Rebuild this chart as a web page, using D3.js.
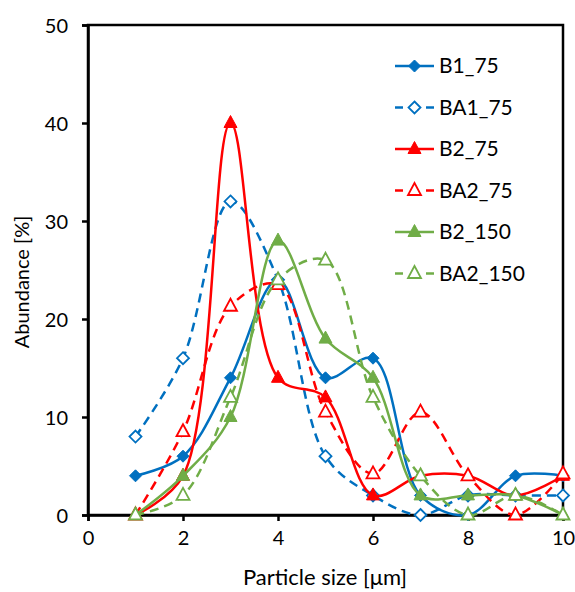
<!DOCTYPE html>
<html><head><meta charset="utf-8">
<script src="https://cdn.jsdelivr.net/npm/d3@7"></script>
<style>body{margin:0;background:#fff}svg{display:block}text{font-family:Lato,"Open Sans",sans-serif;fill:#000}</style>
</head><body>
<script>
const xValues = [1, 2, 3, 4, 5, 6, 7, 8, 9, 10];
const B1_75   = [4, 6, 14, 24, 14, 16, 2, 0, 4, 4];
const BA1_75  = [8, 16, 32, 24, 6, 2, 0, 2, 2, 2];
const B2_75   = [0, 4, 40, 14, 12, 2, 4, 4, 2, 4];
const BA2_75  = [0, 8.5, 21.3, 23.5, 10.5, 4.2, 10.5, 4, 0, 4.2];
const B2_150  = [0, 4, 10, 28, 18, 14, 2, 2, 2, 0];
const BA2_150 = [0, 2, 12, 24, 26, 12, 4, 0, 2, 0];
const seriesNames = ["B1_75", "BA1_75", "B2_75", "BA2_75", "B2_150", "BA2_150"];
const xTicks = [0, 2, 4, 6, 8, 10];
const yTicks = [0, 10, 20, 30, 40, 50];

const series = [
  {name: seriesNames[0], values: B1_75,   color: "#0070C0", dashed: false, marker: "diamond", filled: true},
  {name: seriesNames[1], values: BA1_75,  color: "#0070C0", dashed: true,  marker: "diamond", filled: false},
  {name: seriesNames[2], values: B2_75,   color: "#FF0000", dashed: false, marker: "triangle", filled: true},
  {name: seriesNames[3], values: BA2_75,  color: "#FF0000", dashed: true,  marker: "triangle", filled: false},
  {name: seriesNames[4], values: B2_150,  color: "#70AD47", dashed: false, marker: "triangle", filled: true},
  {name: seriesNames[5], values: BA2_150, color: "#70AD47", dashed: true,  marker: "triangle", filled: false}
];

const W = 575, H = 592;
const m = {left: 88, right: 12, top: 25, bottom: 77};
const svg = d3.select("body").append("svg").attr("width", W).attr("height", H);

const x = d3.scaleLinear().domain([0, 10]).range([m.left, W - m.right]);
const y = d3.scaleLinear().domain([0, 50]).range([H - m.bottom, m.top]);

// plot border
svg.append("rect").attr("x", x(0)).attr("y", y(50)).attr("width", x(10) - x(0)).attr("height", y(0) - y(50))
  .attr("fill", "none").attr("stroke", "#000").attr("stroke-width", 2.5);

// axes
const xAxis = svg.append("g").attr("transform", `translate(0,${y(0)})`)
  .call(d3.axisBottom(x).tickValues(xTicks).tickSize(6).tickPadding(10).tickFormat(d3.format("d")));
const yAxis = svg.append("g").attr("transform", `translate(${x(0)},0)`)
  .call(d3.axisLeft(y).tickValues(yTicks).tickSize(6).tickPadding(14).tickFormat(d3.format("d")));
[xAxis, yAxis].forEach(g => {
  g.select(".domain").attr("stroke", "#000").attr("stroke-width", 2.5);
  g.selectAll(".tick line").attr("stroke", "#000").attr("stroke-width", 2.5);
  g.selectAll(".tick text").attr("font-size", 20).attr("font-family", "Lato");
});
yAxis.selectAll(".tick text").attr("dy", "0.35em");

// axis titles
svg.append("text").attr("x", 325).attr("y", 585).attr("text-anchor", "middle")
  .attr("font-size", 22).text("Particle size [μm]");
svg.append("text").attr("transform", `translate(29,${(y(0) + y(50)) / 2 + 12}) rotate(-90)`)
  .attr("text-anchor", "middle").attr("font-size", 20).text("Abundance [%]");

const line = d3.line().x((d, i) => x(xValues[i])).y(d => y(d)).curve(d3.curveCatmullRom.alpha(0.5));

function markerPath(type) {
  if (type === "diamond") return "M0,-6L6,0L0,6L-6,0Z";
  return "M0,-7L6.5,5L-6.5,5Z";
}

series.forEach(s => {
  const g = svg.append("g");
  g.append("path").attr("d", line(s.values)).attr("fill", "none").attr("stroke", s.color)
    .attr("stroke-width", 2.5).attr("stroke-dasharray", s.dashed ? "9,6" : null);
  g.selectAll("path.m").data(s.values).join("path").attr("class", "m")
    .attr("transform", (d, i) => `translate(${x(xValues[i])},${y(d) + (s.marker === "triangle" ? -0.5 : 0)})`)
    .attr("d", markerPath(s.marker))
    .attr("fill", s.filled ? s.color : "#fff").attr("stroke", s.color).attr("stroke-width", s.filled ? 1 : 1.8);
});

// legend
const leg = svg.append("g");
series.forEach((s, i) => {
  const ly = 66 + i * 41.5;
  const g = leg.append("g").attr("transform", `translate(0,${ly})`);
  if (s.dashed) {
    g.append("line").attr("x1", 395).attr("x2", 403).attr("y1", 0).attr("y2", 0).attr("stroke", s.color).attr("stroke-width", 2.5);
    g.append("line").attr("x1", 426).attr("x2", 434).attr("y1", 0).attr("y2", 0).attr("stroke", s.color).attr("stroke-width", 2.5);
  } else {
    g.append("line").attr("x1", 395).attr("x2", 434).attr("y1", 0).attr("y2", 0).attr("stroke", s.color).attr("stroke-width", 2.5);
  }
  g.append("path").attr("transform", `translate(414.5,${s.marker === "triangle" ? -0.5 : 0})`).attr("d", markerPath(s.marker))
    .attr("fill", s.filled ? s.color : "#fff").attr("stroke", s.color).attr("stroke-width", s.filled ? 1 : 1.8);
  g.append("text").attr("x", 439).attr("y", 0).attr("dy", "0.35em").attr("font-size", 21).text(s.name);
});
</script>
</body></html>
